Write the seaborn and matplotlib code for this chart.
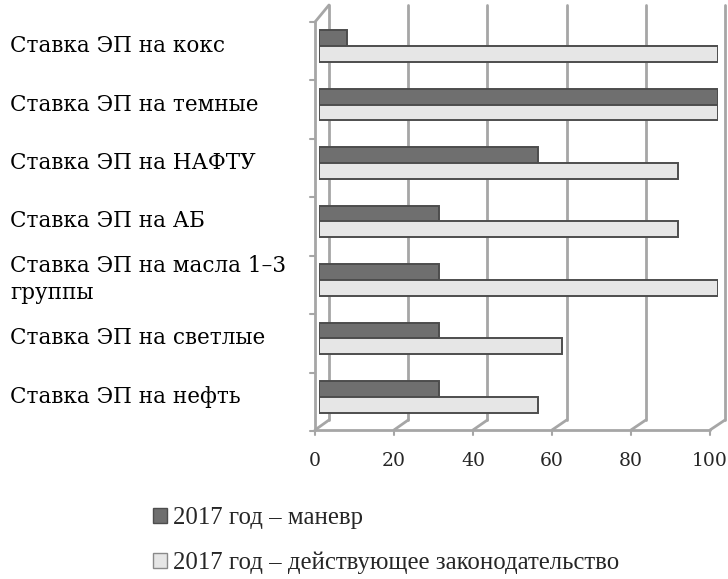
# Export duty rates chart (horizontal bars, two series)

import pandas as pd
import matplotlib.pyplot as plt
import matplotlib.transforms as mtransforms
from matplotlib.patches import Patch
import seaborn as sns

# ============================================================
# Data
# ============================================================

categories = [
    "Ставка ЭП на кокс",
    "Ставка ЭП на темные",
    "Ставка ЭП на НАФТУ",
    "Ставка ЭП на АБ",
    "Ставка ЭП на масла 1–3\nгруппы",
    "Ставка ЭП на светлые",
    "Ставка ЭП на нефть",
]
manevr = [7, 100, 55, 30, 30, 30, 30]
zakon = [100, 100, 90, 90, 100, 61, 55]
series_names = ["2017 год – маневр", "2017 год – действующее законодательство"]
x_ticks = [0, 20, 40, 60, 80, 100]

df = pd.DataFrame({
    "cat": categories * 2,
    "value": manevr + zakon,
    "series": [series_names[0]] * len(categories) + [series_names[1]] * len(categories),
})

dark = "#6f6f6f"
light = "#e6e6e6"
grid_c = "#a6a6a6"

# ============================================================
# Plot
# ============================================================

sns.set_style("white")
plt.rcParams["font.family"] = ["DejaVu Serif"]

fig = plt.figure(figsize=(7.28, 5.79), dpi=100)
ax = fig.add_axes([319 / 728, 1 - 426 / 579, 399 / 728, 409 / 579])

sns.barplot(
    data=df, x="value", y="cat", hue="series", orient="h",
    order=categories, hue_order=series_names,
    palette=[dark, light], width=0.54, ax=ax, legend=False,
    edgecolor="#4d4d4d", linewidth=1.4, zorder=3,
)

ax.set_xlim(0, 100)
ax.set_ylim(6.5, -0.5)
ax.set_xlabel("")
ax.set_ylabel("")
ax.set_xticks([])
ax.set_yticks([])
for s in ax.spines.values():
    s.set_visible(False)


def px(tr, x, y, dx=0, dy=0):
    # point in display pixels, shifted by dx/dy pixels
    p = tr.transform((x, y))
    return p[0] + dx, p[1] + dy


xa = ax.get_xaxis_transform()

# back wall (+10 px right, +6 px up at the floor) and front edge (-4..-8 px, -4 px down)
for v in x_ticks:
    bx0, by0 = px(xa, v, 0, 10 - 0.03 * v, 6)
    bx1, by1 = px(xa, v, 1, 10 - 0.03 * v, 12)
    fx, fy = px(xa, v, 0, -4 - 0.04 * v, -4)
    ax.plot([bx0, bx1], [by0, by1], color=grid_c, lw=2, transform=None, zorder=1, clip_on=False)
    ax.plot([fx, bx0], [fy, by0], color=grid_c, lw=2, transform=None, zorder=1, clip_on=False)
    ax.plot([fx, fx], [fy, fy - 5], color=grid_c, lw=1.5, transform=None, zorder=1, clip_on=False)
    ax.text(fx, fy - 22, str(v), transform=None, ha="center", va="top", fontsize=13.5)

fx0, fy0 = px(xa, 0, 0, -4, -4)
fx1, fy1 = px(xa, 100, 0, -8, -4)
ax.plot([fx0, fx1], [fy0, fy1], color=grid_c, lw=2, transform=None, zorder=1, clip_on=False)

# left front edge with boundary ticks
lx, ly_top = px(xa, 0, 1, -4, -5)
ax.plot([lx, lx], [fy0, ly_top], color=grid_c, lw=2, transform=None, zorder=1, clip_on=False)
tx, ty = px(xa, 0, 1, 10, 12)
ax.plot([lx, tx], [ly_top, ty], color=grid_c, lw=2, transform=None, zorder=1, clip_on=False)
for i in range(len(categories) + 1):
    _, yb = px(ax.transData, 0, i - 0.5, 0, -5)
    ax.plot([lx - 5, lx], [yb, yb], color=grid_c, lw=1.5, transform=None, zorder=1, clip_on=False)

# category labels on the far left
label_tr = mtransforms.blended_transform_factory(fig.transFigure, ax.transData)
for i, c in enumerate(categories):
    ax.text(10 / 728, i, c, transform=label_tr, ha="left", va="center",
            fontsize=15.5, color="black", linespacing=1.3)

# ============================================================
# Legend
# ============================================================

handles = [
    Patch(facecolor=dark, edgecolor="#4d4d4d"),
    Patch(facecolor=light, edgecolor="#8a8a8a"),
]
fig.legend(
    handles, series_names, loc="upper left",
    bbox_to_anchor=(131 / 728, 1 - 485 / 579), frameon=False,
    prop={"family": "Liberation Serif", "size": 17.8},
    handlelength=0.55, handleheight=0.55, handletextpad=0.25, labelspacing=0.9,
)

fig.savefig("out.png", dpi=100)
